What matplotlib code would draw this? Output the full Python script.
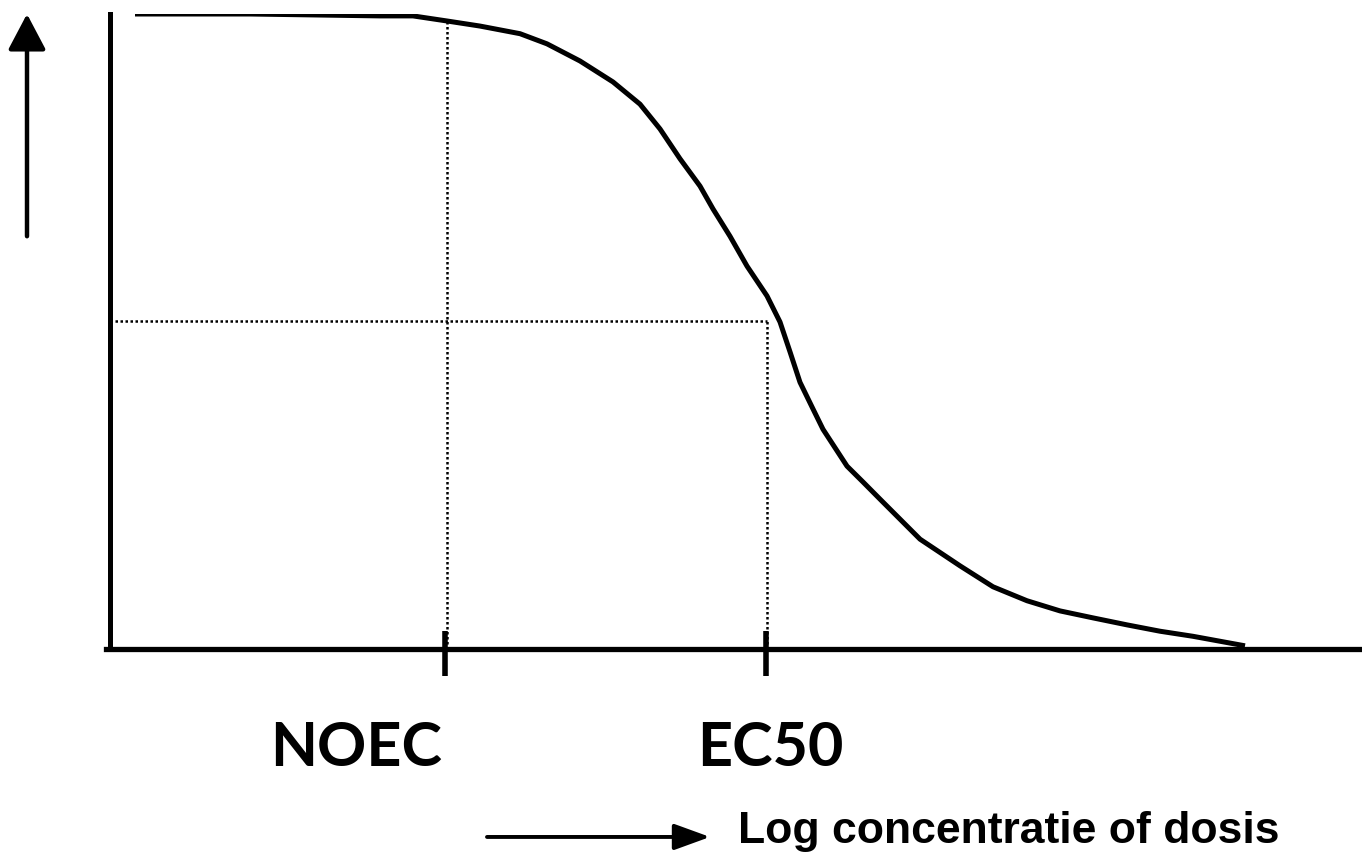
import matplotlib
matplotlib.use("Agg")
import matplotlib.pyplot as plt

# dose-response curve (log concentration, response %)
log_conc = [0.25, 1.40, 2.70, 3.03, 3.37, 3.70, 4.10, 4.37, 4.70, 5.03, 5.30,
            5.50, 5.70, 5.90, 6.03, 6.20, 6.37, 6.57, 6.70, 6.80, 6.90, 7.03,
            7.13, 7.37, 7.53, 7.70, 8.10, 8.50, 8.83, 9.17, 9.50, 9.83, 10.17,
            10.50, 10.83, 11.35]
response = [100.0, 100.0, 99.7, 99.7, 98.9, 98.1, 96.9, 95.3, 92.6, 89.3, 85.8,
            81.9, 77.2, 72.9, 69.3, 65.0, 60.3, 55.6, 51.5, 46.8, 42.0, 37.8,
            34.6, 28.8, 26.3, 23.6, 17.3, 13.1, 9.8, 7.6, 6.0, 4.9, 3.8,
            2.8, 2.0, 0.5]

noec = 3.37
ec50 = 6.57
ec50_level = 51.7
point_labels = ["NOEC", "EC50"]
x_label = "Log concentratie of dosis"

fig = plt.figure(figsize=(13.62, 8.53), dpi=100)
ax = fig.add_axes([110 / 1362, 203 / 853, 1252 / 1362, 635 / 853])
ax.set_xlim(0, 12.52)
ax.set_ylim(0, 100)
for s in ["top", "right"]:
    ax.spines[s].set_visible(False)
ax.spines["left"].set_linewidth(3.6)
ax.spines["bottom"].set_linewidth(3.8)
ax.spines["bottom"].set_bounds(-0.04, 12.52)
ax.set_xticks([])
ax.set_yticks([])

ax.plot(log_conc, response, color="black", lw=3.6, solid_joinstyle="round",
        solid_capstyle="butt")

# dotted guide lines
ax.plot([noec, noec], [0, 98.9], color="black", lw=1.8, ls=(0, (1, 1)))
ax.plot([0, ec50], [ec50_level, ec50_level], color="black", lw=1.8, ls=(0, (1, 1)))
ax.plot([ec50, ec50], [0, ec50_level], color="black", lw=1.8, ls=(0, (1, 1)))

# tick marks at NOEC and EC50
ax.vlines([noec - 0.02, ec50 - 0.01], -4.3, 2.8, color="black", lw=4, clip_on=False)

lbl_font = dict(family="Lato", weight="bold", size=44)
ax.text(2.46, -18.3, point_labels[0], ha="center", va="baseline", clip_on=False, **lbl_font)
ax.text(6.60, -18.3, point_labels[1], ha="center", va="baseline", clip_on=False, **lbl_font)

# arrows
ax.annotate("", xy=(-0.83, 100), xytext=(-0.83, 65), xycoords="data",
            annotation_clip=False,
            arrowprops=dict(arrowstyle="-|>,head_length=1.1,head_width=0.58",
                            mutation_scale=20, color="black", lw=3.2,
                            shrinkA=0, shrinkB=0))
ax.annotate("", xy=(6.0, -29.6), xytext=(3.77, -29.6), xycoords="data",
            annotation_clip=False,
            arrowprops=dict(arrowstyle="-|>,head_length=1.1,head_width=0.4",
                            mutation_scale=20, color="black", lw=2.8,
                            shrinkA=0, shrinkB=0))
ax.text(6.28, -30.4, x_label, ha="left", va="baseline", clip_on=False,
        family="Liberation Sans", weight="bold", size=32)

fig.savefig("out.png", dpi=100)
